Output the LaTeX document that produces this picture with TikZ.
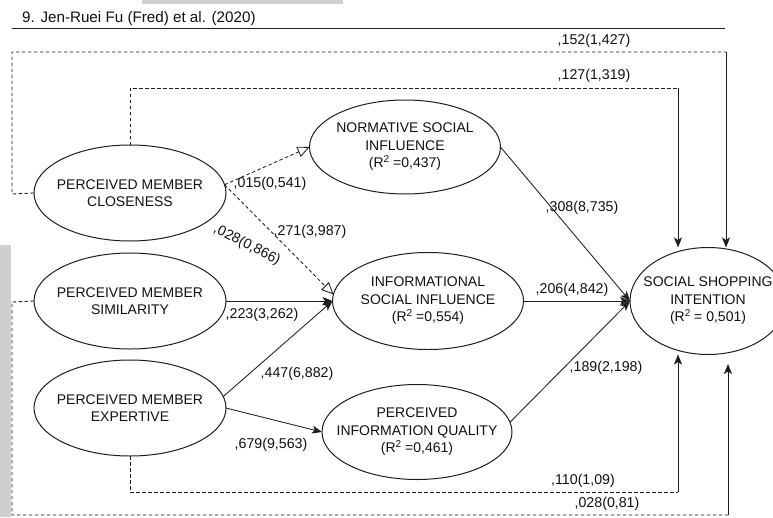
\documentclass[tikz,border=0pt]{standalone}
\usepackage{fontspec}
\setmainfont{Liberation Sans}
\usetikzlibrary{arrows.meta,shapes.geometric,calc}
\definecolor{linec}{HTML}{1E1E1E}
\definecolor{txtc}{HTML}{111111}
\definecolor{scan}{HTML}{CFCFCF}
\newcommand\myrsup{\raisebox{0.38em}{\fontsize{10}{10}\selectfont 2}}
\begin{document}
\begin{tikzpicture}[x=1pt,y=-1pt,
  ell/.style={draw=linec, line width=1pt, ellipse, inner sep=0pt, outer sep=0pt},
  txt/.style={align=center, font=\fontsize{14}{17.5}\selectfont, text=txtc, inner sep=0pt},
  lab/.style={font=\fontsize{14.2}{16}\selectfont, text=txtc, inner sep=0pt},
  dshline/.style={draw=linec, line width=0.85pt, dash pattern=on 3.5pt off 2.5pt},
  sarr/.style={draw=linec, line width=0.85pt, -{Stealth[length=10pt,width=8pt,inset=2.5pt]}},
  oarr/.style={dshline, -{Triangle[open,length=12pt,width=11pt]}},
]
\clip (0,0) rectangle (773,517);
\fill[white] (0,0) rectangle (773,517);
% scan artefacts
\fill[scan] (0,245) rectangle (11,517);
\fill[scan] (142,0) rectangle (343,4);

% title
\node[anchor=base west, inner sep=0pt, font=\fontsize{15.2}{17}\selectfont, text=txtc] (title) at (22,22) {9. Jen-Ruei Fu (Fred) et al. (2020)};
\coordinate (hl) at (12,28);
\coordinate (hr) at (725,28);
\draw[linec, line width=1pt] (hl) -- (hr);

% ellipses
\node[ell, minimum width=192pt, minimum height=96pt] (C) at (130,193) {};
\node[ell, minimum width=192pt, minimum height=96pt] (S) at (130,301) {};
\node[ell, minimum width=192pt, minimum height=96pt] (E) at (130,408) {};
\node[ell, minimum width=191pt, minimum height=94pt] (N) at (405,147) {};
\node[ell, minimum width=191pt, minimum height=97pt] (I) at (428,301) {};
\node[ell, minimum width=190pt, minimum height=95pt] (Q) at (417,432) {};
\node[ell, minimum width=156pt, minimum height=107pt] (T) at (708,301) {};

\node[txt] (Ct) at (C.center) {PERCEIVED MEMBER\\CLOSENESS};
\node[txt] (St) at (S.center) {PERCEIVED MEMBER\\SIMILARITY};
\node[txt] (Et) at (E.center) {PERCEIVED MEMBER\\EXPERTIVE};
\node[txt] (Nt) at (N.center) {NORMATIVE SOCIAL\\INFLUENCE\\(R\myrsup{} =0,437)};
\node[txt] (It) at (I.center) {INFORMATIONAL\\SOCIAL INFLUENCE\\(R\myrsup{} =0,554)};
\node[txt] (Qt) at (Q.center) {PERCEIVED\\INFORMATION QUALITY\\(R\myrsup{} =0,461)};
\node[txt] (Tt) at (T.center) {SOCIAL SHOPPING\\INTENTION\\(R\myrsup{} = 0,501)};

% outer loops
\coordinate (c1) at (12,194);
\coordinate (c2) at (12,52);
\coordinate (c3) at (726,52);
\draw[dshline] (C.west) -- (c1) -- (c2) -- (c3);
\draw[sarr] (c3) -- (c3 |- T.north);

\coordinate (d1) at (130,88);
\coordinate (d2) at (678,88);
\draw[dshline] (C.north) -- (d1) -- (d2);
\draw[sarr] (d2) -- (d2 |- T.north);

\coordinate (s1) at (12,302);
\coordinate (s2) at (12,515);
\coordinate (s3) at (728,515);
\coordinate (s4) at (728,364);
\draw[dshline] (S.west) -- (s1) -- (s2) -- (s3);
\draw[sarr] (s3) -- (s4);

\coordinate (e1) at (130,492);
\coordinate (e2) at (678,492);
\draw[dshline] (E.south) -- (e1) -- (e2);
\draw[sarr] (e2) -- (e2 |- T.south);

% inner paths
\draw[oarr] (C.5) -- (N.west);
\draw[oarr] (C.5) -- (I.176);
\draw[sarr] (S.east) -- (I.west);
\draw[sarr] (E.7) -- (I.west);
\draw[sarr] (E.east) -- (Q.west);
\draw[sarr] (N.east) -- (T.west);
\draw[sarr] (I.east) -- (T.west);
\draw[sarr] (Q.6) -- (T.west);

% labels
\node[lab] (l1) at (594,41) {,152(1,427)};
\node[lab] (l2) at (594,76) {,127(1,319)};
\node[lab] (l3) at (583,481) {,110(1,09)};
\node[lab] (l4) at (607,504) {,028(0,81)};
\node[lab] (l5) at (270,184) {,015(0,541)};
\node[lab] (l6) at (310,232) {,271(3,987)};
\node[lab, rotate=-27] (l7) at (247,245) {,028(0,866)};
\node[lab] (l8) at (262,315) {,223(3,262)};
\node[lab] (l9) at (297,374) {,447(6,882)};
\node[lab] (l10) at (271,445) {,679(9,563)};
\node[lab] (l11) at (582,208) {,308(8,735)};
\node[lab] (l12) at (572,290) {,206(4,842)};
\node[lab] (l13) at (606,368) {,189(2,198)};
\end{tikzpicture}
\end{document}
